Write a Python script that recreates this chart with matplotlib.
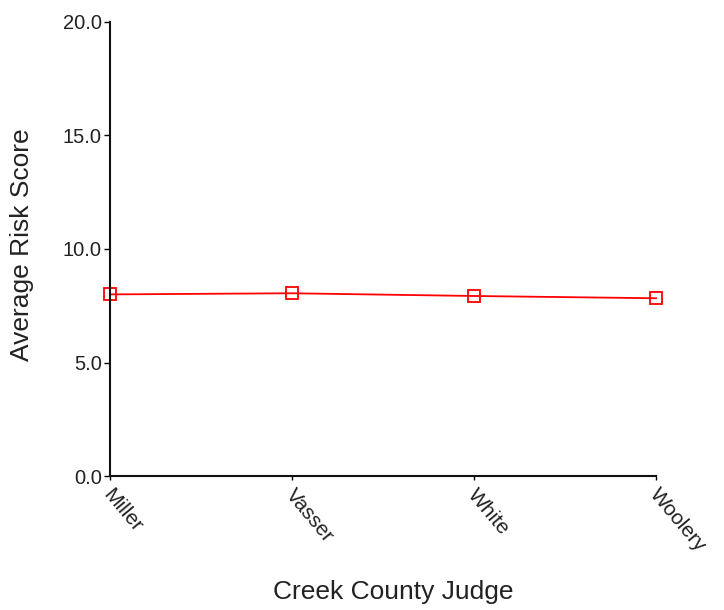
import matplotlib
matplotlib.use("Agg")
import matplotlib.pyplot as plt
import matplotlib.transforms as mtransforms

judges = ["Miller", "Vasser", "White", "Woolery"]
avg_risk = [8.0, 8.05, 7.93, 7.83]
y_ticks = [0.0, 5.0, 10.0, 15.0, 20.0]

plt.rcParams['font.family'] = ['Liberation Sans', 'DejaVu Sans']

fig = plt.figure(figsize=(7.24, 6.10), dpi=100)
ax = fig.add_axes([110/724, 1-476/610, (656-110)/724, (476-22)/610])

x = list(range(len(judges)))
ax.plot(x, avg_risk, color='#ff0000', linewidth=1.3, marker='s', markersize=9,
        markerfacecolor='none', markeredgecolor='#ff0000', markeredgewidth=1.3, clip_on=False)

ax.set_xlim(0, len(judges) - 1)
ax.set_ylim(0, 20)
ax.set_yticks(y_ticks)
ax.set_yticklabels([f"{v:.1f}" for v in y_ticks], fontsize=14.5, color='#222222')
ax.set_xticks(x)
ax.set_xticklabels([])
offset = mtransforms.ScaledTranslation(4/100, -9/100, fig.dpi_scale_trans)
trans = ax.get_xaxis_transform() + offset
for xi, name in zip(x, judges):
    ax.text(xi, 0, name, transform=trans, fontsize=15, rotation=-50, ha='left',
            va='top', rotation_mode='anchor', color='#222222', clip_on=False)
ax.tick_params(axis='y', length=4, width=1, pad=2)
ax.tick_params(axis='x', length=3, width=1, pad=4)

for s in ['top', 'right']:
    ax.spines[s].set_visible(False)
for s in ['left', 'bottom']:
    ax.spines[s].set_linewidth(1.5)
    ax.spines[s].set_color('#111111')

fig.text(22/724, 1-245/610, "Average Risk Score", rotation=90, fontsize=19,
         ha='center', va='center', color='#222222')
fig.text(393/724, 1-592/610, "Creek County Judge", fontsize=19,
         ha='center', va='center', color='#222222')

fig.savefig("out.png", dpi=100)
